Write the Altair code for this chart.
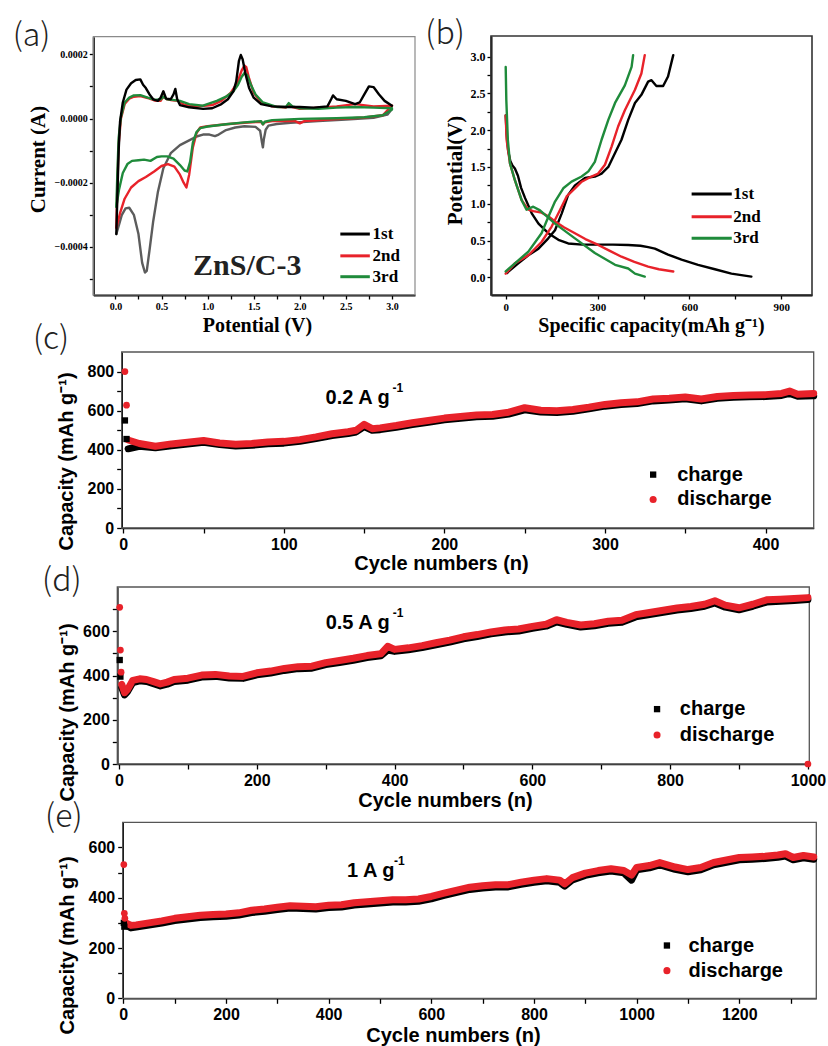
import altair as alt
import pandas as pd

W, H = 828, 1046
BLACK, GRAY, RED, GREEN = "#000000", "#5c5c5c", "#e8222a", "#1f8b3b"
SERIF, SANS, TAG_FONT = "Liberation Serif", "Liberation Sans", "Noto Sans CJK JP"

# ---------------- Panel (a): cyclic voltammetry, current in 1e-4 A ----------------
a1_cat_v = [3.0, 2.95, 2.8, 2.5, 2.2, 1.9, 1.75, 1.66, 1.63, 1.61, 1.6, 1.59, 1.57, 1.52, 1.4, 1.3, 1.2, 1.12, 1.08, 1.02,
            0.95, 0.88, 0.8, 0.7, 0.6, 0.52, 0.46, 0.41, 0.37, 0.34, 0.32, 0.29, 0.25, 0.2, 0.15, 0.11, 0.07, 0.04, 0.01]
a1_cat_i = [0.3, 0.12, 0.02, -0.03, -0.08, -0.13, -0.17, -0.22, -0.35, -0.65, -0.9, -0.75, -0.38, -0.26, -0.24, -0.28, -0.36, -0.5, -0.55, -0.5,
            -0.5, -0.56, -0.68, -0.83, -1.08, -1.55, -2.3, -3.2, -4.1, -4.75, -4.8, -4.5, -3.6, -3.0, -2.78, -2.8, -3.0, -3.3, -3.6]
a1_an_v = [0.01, 0.02, 0.035, 0.05, 0.08, 0.12, 0.17, 0.22, 0.27, 0.3, 0.33, 0.37, 0.41, 0.46, 0.49, 0.52, 0.55, 0.6, 0.63, 0.65,
           0.67, 0.7, 0.8, 0.95, 1.05, 1.15, 1.22, 1.28, 1.31, 1.34, 1.36, 1.38, 1.41, 1.45, 1.5, 1.58, 1.7, 1.85, 2.0, 2.15,
           2.3, 2.34, 2.36, 2.4, 2.5, 2.6, 2.65, 2.7, 2.75, 2.8, 2.86, 2.92, 3.0]
a1_an_i = [-3.6, -2.5, -1.0, -0.1, 0.5, 0.9, 1.1, 1.2, 1.22, 1.05, 0.95, 0.75, 0.6, 0.55, 0.65, 0.85, 0.62, 0.6, 0.75, 0.92,
           0.6, 0.42, 0.35, 0.3, 0.32, 0.45, 0.6, 0.85, 1.15, 1.8, 1.98, 1.85, 1.4, 0.95, 0.65, 0.45, 0.38, 0.36, 0.36, 0.34,
           0.38, 0.6, 0.72, 0.6, 0.55, 0.45, 0.5, 0.75, 1.0, 0.98, 0.75, 0.55, 0.4]
a2_cat_v = [3.0, 2.9, 2.7, 2.4, 2.05, 2.0, 1.95, 1.7, 1.62, 1.6, 1.58, 1.4, 1.2, 1.0, 0.92, 0.88, 0.84, 0.8, 0.77, 0.74,
            0.7, 0.64, 0.57, 0.5, 0.42, 0.33, 0.25, 0.17, 0.1, 0.05, 0.01]
a2_cat_i = [0.4, 0.1, 0.03, -0.02, -0.08, -0.15, -0.08, -0.08, -0.12, -0.18, -0.1, -0.13, -0.18, -0.24, -0.28, -0.45, -0.9, -1.75, -2.15, -2.0,
            -1.75, -1.5, -1.42, -1.48, -1.65, -1.82, -1.95, -2.15, -2.5, -2.95, -3.4]
a2_an_v = [0.01, 0.02, 0.035, 0.06, 0.1, 0.15, 0.2, 0.27, 0.35, 0.43, 0.49, 0.52, 0.56, 0.62, 0.68, 0.75, 0.9, 1.05, 1.15, 1.25,
           1.32, 1.37, 1.4, 1.42, 1.45, 1.5, 1.58, 1.7, 1.85, 1.88, 1.92, 2.0, 2.2, 2.4, 2.6, 2.8, 3.0]
a2_an_i = [-3.4, -2.2, -0.8, 0.0, 0.45, 0.62, 0.68, 0.7, 0.64, 0.56, 0.55, 0.68, 0.6, 0.57, 0.55, 0.42, 0.38, 0.42, 0.55, 0.8,
           1.1, 1.5, 1.65, 1.6, 1.25, 0.8, 0.5, 0.38, 0.34, 0.45, 0.36, 0.3, 0.34, 0.38, 0.45, 0.38, 0.4]
a3_cat_v = [3.0, 2.9, 2.7, 2.4, 2.0, 1.7, 1.62, 1.6, 1.58, 1.4, 1.2, 1.0, 0.92, 0.88, 0.84, 0.81, 0.78, 0.75, 0.7, 0.63,
            0.56, 0.5, 0.45, 0.38, 0.31, 0.25, 0.18, 0.13, 0.08, 0.04, 0.01]
a3_cat_i = [0.28, 0.1, 0.04, 0.01, -0.01, -0.05, -0.1, -0.18, -0.08, -0.12, -0.18, -0.25, -0.3, -0.42, -0.75, -1.35, -1.65, -1.62, -1.45, -1.25,
            -1.18, -1.18, -1.2, -1.32, -1.28, -1.3, -1.32, -1.42, -1.7, -2.2, -2.75]
a3_an_v = [0.01, 0.02, 0.035, 0.06, 0.1, 0.15, 0.2, 0.27, 0.35, 0.43, 0.49, 0.52, 0.56, 0.62, 0.7, 0.8, 0.95, 1.1, 1.2, 1.28,
           1.33, 1.37, 1.4, 1.43, 1.47, 1.52, 1.6, 1.75, 1.85, 1.88, 1.92, 2.0, 2.2, 2.4, 2.6, 2.8, 3.0]
a3_an_i = [-2.75, -1.8, -0.6, 0.05, 0.5, 0.65, 0.72, 0.73, 0.65, 0.58, 0.6, 0.68, 0.6, 0.58, 0.55, 0.45, 0.4, 0.55, 0.68, 0.85,
           1.05, 1.3, 1.42, 1.35, 1.05, 0.75, 0.5, 0.36, 0.36, 0.48, 0.38, 0.32, 0.3, 0.34, 0.36, 0.34, 0.32]
a_legend = ["1st", "2nd", "3rd"]

# ---------------- Panel (b): charge/discharge profiles ----------------
b1_dis_c = [0, 3, 8, 15, 22, 30, 40, 50, 63, 85, 107, 139, 172, 204, 250, 300, 350, 400, 440, 465, 487, 530, 574, 628, 683, 737, 802]
b1_dis_v = [2.2, 1.95, 1.72, 1.58, 1.52, 1.48, 1.38, 1.22, 1.08, 0.87, 0.73, 0.6, 0.51, 0.46, 0.445, 0.445, 0.445, 0.44, 0.43, 0.41,
            0.39, 0.31, 0.24, 0.17, 0.11, 0.05, 0.01]
b1_chg_c = [5, 9, 41, 74, 107, 139, 161, 183, 204, 226, 259, 291, 313, 335, 357, 378, 400, 422, 443, 465, 476, 492, 514, 530, 547]
b1_chg_v = [0.06, 0.08, 0.19, 0.3, 0.39, 0.53, 0.64, 0.87, 1.12, 1.25, 1.35, 1.37, 1.41, 1.5, 1.69, 1.87, 2.14, 2.37, 2.48, 2.66,
            2.68, 2.6, 2.6, 2.73, 3.02]
b2_dis_c = [0, 3, 14, 30, 52, 74, 90, 117, 139, 161, 190, 226, 260, 302, 340, 378, 420, 465, 500, 547]
b2_dis_v = [2.2, 1.87, 1.55, 1.32, 1.05, 0.92, 0.9, 0.88, 0.83, 0.76, 0.68, 0.6, 0.52, 0.44, 0.36, 0.28, 0.21, 0.145, 0.11, 0.08]
b2_chg_c = [0, 30, 74, 117, 150, 172, 199, 226, 248, 280, 302, 324, 346, 367, 389, 422, 443, 454]
b2_chg_v = [0.05, 0.19, 0.3, 0.48, 0.69, 0.87, 1.1, 1.21, 1.3, 1.37, 1.41, 1.53, 1.78, 2.05, 2.27, 2.55, 2.77, 3.02]
b3_dis_c = [0, 2, 7, 14, 30, 52, 68, 79, 90, 112, 161, 226, 291, 357, 400, 422, 454]
b3_dis_v = [2.86, 2.41, 1.87, 1.55, 1.32, 1.05, 0.92, 0.94, 0.96, 0.91, 0.73, 0.53, 0.33, 0.17, 0.12, 0.05, 0.01]
b3_chg_c = [0, 30, 74, 117, 139, 161, 188, 215, 248, 270, 291, 313, 335, 357, 389, 411, 416]
b3_chg_v = [0.08, 0.19, 0.35, 0.6, 0.82, 1.03, 1.21, 1.3, 1.37, 1.44, 1.57, 1.87, 2.14, 2.37, 2.61, 2.86, 3.02]

# ---------------- Panel (c): cycling at 0.2 A/g ----------------
c_cyc = [3, 10, 20, 30, 40, 50, 60, 70, 80, 90, 100, 110, 120, 130, 140, 145, 150, 155, 160, 170, 180, 190, 200, 210, 220,
         230, 240, 250, 260, 270, 280, 290, 300, 310, 320, 330, 340, 350, 360, 370, 380, 390, 400, 410, 415, 420, 430]
c_dis = [450, 432, 418, 430, 438, 447, 435, 428, 432, 440, 443, 452, 466, 482, 492, 500, 530, 508, 512, 524, 538, 550, 562, 570, 578,
         580, 592, 615, 602, 600, 606, 618, 632, 640, 645, 660, 664, 670, 660, 672, 678, 680, 682, 688, 700, 684, 688]
c_chg = [405, 418, 410, 421, 429, 438, 427, 419, 423, 431, 434, 443, 457, 473, 483, 491, 519, 500, 503, 515, 529, 541, 553, 561, 569,
         571, 583, 604, 593, 591, 597, 609, 623, 631, 636, 650, 654, 661, 650, 663, 668, 671, 672, 678, 688, 674, 676]
c_first_dis_cyc, c_first_dis = [1, 2], [800, 628]
c_first_chg_cyc, c_first_chg = [1, 2], [550, 455]

# ---------------- Panel (d): cycling at 0.5 A/g ----------------
d_cyc = [4, 8, 12, 20, 30, 40, 50, 60, 70, 80, 100, 120, 140, 160, 180, 200, 220, 240, 260, 280, 300, 320, 340, 360, 380, 390,
         400, 420, 440, 460, 480, 500, 520, 540, 560, 580, 600, 620, 635, 650, 670, 690, 710, 730, 750, 770, 790, 810, 830, 850,
         865, 880, 900, 920, 940, 960, 980, 1000]
d_dis = [360, 322, 335, 378, 385, 382, 372, 362, 370, 382, 388, 402, 405, 398, 396, 412, 420, 432, 440, 442, 458, 468, 478, 490,
         498, 532, 518, 525, 535, 548, 560, 575, 585, 597, 606, 610, 622, 632, 652, 640, 628, 634, 645, 650, 675, 685, 695, 705,
         712, 722, 738, 718, 706, 722, 742, 745, 748, 752]
d_chg = [345, 312, 326, 368, 376, 373, 363, 353, 361, 373, 379, 393, 396, 389, 387, 403, 411, 423, 431, 433, 449, 459, 469, 481,
         489, 515, 509, 516, 526, 539, 551, 566, 576, 588, 597, 601, 613, 623, 642, 631, 619, 625, 636, 641, 665, 676, 686, 696,
         703, 713, 728, 709, 697, 713, 732, 736, 739, 743]
d_first_dis_cyc, d_first_dis = [1, 2, 3, 1000], [708, 515, 415, 0]
d_first_chg_cyc, d_first_chg = [1, 2], [470, 395]

# ---------------- Panel (e): cycling at 1 A/g ----------------
e_cyc = [5, 15, 25, 50, 75, 100, 125, 150, 175, 200, 225, 250, 275, 300, 325, 350, 375, 400, 425, 450, 475, 500, 525, 550, 575,
         600, 625, 650, 675, 700, 725, 750, 775, 800, 825, 850, 860, 875, 900, 925, 950, 975, 990, 1000, 1025, 1045, 1075, 1100,
         1125, 1150, 1175, 1200, 1225, 1250, 1275, 1290, 1305, 1325, 1345]
e_dis = [300, 290, 292, 300, 308, 318, 324, 330, 333, 335, 340, 350, 355, 362, 368, 366, 364, 370, 372, 380, 384, 388, 392, 392, 395,
         405, 418, 430, 442, 448, 452, 452, 462, 470, 476, 470, 455, 480, 498, 508, 515, 508, 490, 520, 528, 540, 522, 512,
         520, 540, 550, 560, 562, 565, 570, 575, 560, 568, 562]
e_chg = [292, 280, 283, 291, 299, 309, 315, 321, 324, 326, 331, 341, 346, 353, 359, 357, 355, 361, 363, 371, 375, 379, 383, 383, 386,
         396, 409, 421, 433, 439, 443, 443, 453, 461, 467, 461, 446, 471, 489, 499, 506, 499, 470, 511, 519, 531, 513, 503,
         511, 531, 541, 551, 553, 556, 561, 566, 551, 559, 553]
e_first_dis_cyc, e_first_dis = [1, 2, 3], [532, 338, 318]
e_first_chg_cyc, e_first_chg = [1, 2], [300, 285]

legend_names = ["charge", "discharge"]

# ---------------- layout: scale domains and pixel ranges of each panel ----------------
PA = dict(xd=[-0.24, 3.25], xr=[93.3, 415], yd=[-0.00055, 0.000255], yr=[295, 36.7])
PB = dict(xd=[-48, 1000], xr=[491, 812], yd=[-0.24, 3.28], yr=[295, 36])
PC = dict(xd=[-1, 430], xr=[121.7, 813.7], yd=[0, 900], yr=[528, 352])
PD = dict(xd=[-2.5, 1002], xr=[117.3, 809.3], yd=[0, 800], yr=[764, 587])
PE = dict(xd=[-1.2, 1350], xr=[122.7, 816.3], yd=[0, 700], yr=[998.3, 822.3])


def scales(p):
    return (alt.Scale(domain=p["xd"], range=p["xr"], nice=False, zero=False),
            alt.Scale(domain=p["yd"], range=p["yr"], nice=False, zero=False))


def make_axis(orient, p, values, title, lfont, lsize, tfont, tsize, tpos, dw, expr, fmt, tick=4, pad=2):
    kw = dict(orient=orient, values=values, title=title, grid=False, labelFlush=False, labelOverlap=False,
              labelFont=lfont, labelFontSize=lsize, labelFontWeight="bold", labelColor="#000", labelPadding=pad,
              tickSize=tick, tickColor="#000", tickWidth=1.3, domainColor="#000", domainWidth=dw,
              titleFont=tfont, titleFontSize=tsize, titleFontWeight="bold", titleColor="#000",
              titleX=tpos[0], titleY=tpos[1], titleAlign="center", titleBaseline="middle",
              format=fmt, labelExpr=expr)
    if orient == "bottom":
        kw["offset"] = p["yr"][0] - H
    else:
        kw["offset"] = -p["xr"][0]
        kw["titleAngle"] = 270
    return alt.Axis(**kw)


def frame(p, ax, ay, stroke, sw):
    sx, sy = scales(p)
    df = pd.DataFrame({"x0": [p["xd"][0]], "x1": [p["xd"][1]], "y0": [p["yd"][0]], "y1": [p["yd"][1]]})
    return alt.Chart(df).mark_rect(fillOpacity=0, stroke=stroke, strokeWidth=sw).encode(
        x=alt.X("x0:Q", scale=sx, axis=ax), x2="x1", y=alt.Y("y0:Q", scale=sy, axis=ay), y2="y1")


def lines(p, parts, width):
    sx, sy = scales(p)
    rows = []
    for key, xs, ys, col in parts:
        for k, (xv, yv) in enumerate(zip(xs, ys)):
            rows.append({"x": xv, "y": yv, "k": k, "key": key, "color": col})
    return alt.Chart(pd.DataFrame(rows)).mark_line(strokeWidth=width, strokeJoin="round", strokeCap="round").encode(
        x=alt.X("x:Q", scale=sx), y=alt.Y("y:Q", scale=sy),
        detail="key:N", color=alt.Color("color:N", scale=None), order="k:Q")


def points(p, xs, ys, shape, col, size):
    sx, sy = scales(p)
    return alt.Chart(pd.DataFrame({"x": xs, "y": ys})).mark_point(filled=True, shape=shape, color=col, size=size, opacity=1).encode(
        x=alt.X("x:Q", scale=sx), y=alt.Y("y:Q", scale=sy))


def text(p, x, y, t, **kw):
    sx, sy = scales(p)
    return alt.Chart(pd.DataFrame({"x": [x], "y": [y], "t": [t]})).mark_text(**kw).encode(
        x=alt.X("x:Q", scale=sx), y=alt.Y("y:Q", scale=sy), text="t:N")


def rules(p, x0, x1, ys, cols, width):
    sx, sy = scales(p)
    df = pd.DataFrame({"x0": [x0] * len(ys), "x1": [x1] * len(ys), "y": ys, "color": cols})
    return alt.Chart(df).mark_rule(strokeWidth=width).encode(
        x=alt.X("x0:Q", scale=sx), x2="x1", y=alt.Y("y:Q", scale=sy),
        color=alt.Color("color:N", scale=None))


def tag(p, x, y, t):
    return text(p, x, y, t, font=TAG_FONT, fontSize=32, fontWeight=300, color="#222", align="center", baseline="middle")


# ---------------- Panel (a) ----------------
e4 = 1e-4
axA_x = make_axis("bottom", PA, [0, 0.25, 0.5, 0.75, 1, 1.25, 1.5, 1.75, 2, 2.25, 2.5, 2.75, 3], "Potential (V)",
                  SERIF, 10, SERIF, 20, (257, 30), 2, "round(datum.value*100) % 50 == 0 ? datum.label : ''", ".1f")
axA_y = make_axis("left", PA, [-0.0005, -0.0004, -0.0003, -0.0002, -0.0001, 0, 0.0001, 0.0002], "Current (A)",
                  SERIF, 10, SERIF, 21, (-55, 159), 2, "round(datum.value*10000) % 2 == 0 ? datum.label : ''", ".4f")
panelA = alt.layer(
    frame(PA, axA_x, axA_y, "#8a8a8a", 1.2),
    lines(PA, [
        ("1c", a1_cat_v, [v * e4 for v in a1_cat_i], GRAY),
        ("2c", a2_cat_v, [v * e4 for v in a2_cat_i], RED),
        ("2a", a2_an_v, [v * e4 for v in a2_an_i], RED),
        ("3c", a3_cat_v, [v * e4 for v in a3_cat_i], GREEN),
        ("3a", a3_an_v, [v * e4 for v in a3_an_i], GREEN),
        ("1a", a1_an_v, [v * e4 for v in a1_an_i], BLACK),
    ], 2.4),
    rules(PA, 2.44, 2.76, [-0.00036, -0.000428, -0.000493], [BLACK, RED, GREEN], 3),
    text(PA, 2.79, -0.00036, a_legend[0], font=SERIF, fontSize=17, fontWeight="bold", align="left", baseline="middle"),
    text(PA, 2.79, -0.000428, a_legend[1], font=SERIF, fontSize=17, fontWeight="bold", align="left", baseline="middle"),
    text(PA, 2.79, -0.000493, a_legend[2], font=SERIF, fontSize=17, fontWeight="bold", align="left", baseline="middle"),
    text(PA, 1.43, -0.000459, "ZnS/C-3", font=SERIF, fontSize=30, fontWeight="bold", color="#222", align="center", baseline="middle"),
    tag(PA, -0.91, 0.000256, "(a)"),
)

# ---------------- Panel (b) ----------------
axB_x = make_axis("bottom", PB, [0, 150, 300, 450, 600, 750, 900], "Specific capacity(mAh g\u207b\u00b9)",
                  SERIF, 11, SERIF, 20, (651, 30), 2, "datum.value % 300 == 0 ? datum.label : ''", "d")
axB_y = make_axis("left", PB, [0, 0.25, 0.5, 0.75, 1, 1.25, 1.5, 1.75, 2, 2.25, 2.5, 2.75, 3], "Potential(V)",
                  SERIF, 12, SERIF, 21, (-36, 170), 2, "round(datum.value*100) % 50 == 0 ? datum.label : ''", ".1f")
panelB = alt.layer(
    frame(PB, axB_x, axB_y, "#333333", 1.6),
    lines(PB, [
        ("1d", b1_dis_c, b1_dis_v, BLACK), ("1c", b1_chg_c, b1_chg_v, BLACK),
        ("2d", b2_dis_c, b2_dis_v, RED), ("2c", b2_chg_c, b2_chg_v, RED),
        ("3d", b3_dis_c, b3_dis_v, GREEN), ("3c", b3_chg_c, b3_chg_v, GREEN),
    ], 2.4),
    rules(PB, 607, 738, [1.133, 0.824, 0.53], [BLACK, RED, GREEN], 3),
    text(PB, 743, 1.133, a_legend[0], font=SERIF, fontSize=17, fontWeight="bold", align="left", baseline="middle"),
    text(PB, 743, 0.824, a_legend[1], font=SERIF, fontSize=17, fontWeight="bold", align="left", baseline="middle"),
    text(PB, 743, 0.53, a_legend[2], font=SERIF, fontSize=17, fontWeight="bold", align="left", baseline="middle"),
    tag(PB, -198, 3.31, "(b)"),
)


# ---------------- Panels (c)-(e) ----------------
def cycling_panel(p, cyc, dis, chg, fdc, fd, fcc, fc, xvals, xstep, yvals, ystep, xtitle_pos, ytitle_pos,
                  rate_txt, rate_pos, rate_dx, leg_x, leg_tx, leg_y, tag_pos, tag_txt):
    ax = make_axis("bottom", p, xvals, "Cycle numbers (n)", SANS, 16, SANS, 20, xtitle_pos, 1.6,
                   f"datum.value % {xstep} == 0 ? datum.label : ''", "d", tick=5, pad=3)
    ay = make_axis("left", p, yvals, "Capacity (mAh g\u207b\u00b9)", SANS, 16, SANS, 20, ytitle_pos, 1.6,
                   f"datum.value % {ystep} == 0 ? datum.label : ''", "d", tick=5, pad=3)
    return alt.layer(
        frame(p, ax, ay, "#555555", 1.3),
        lines(p, [("chg", cyc, chg, BLACK)], 7),
        lines(p, [("dis", cyc, dis, RED)], 7),
        points(p, fcc, fc, "square", BLACK, 40),
        points(p, fdc, fd, "circle", RED, 45),
        text(p, rate_pos[0], rate_pos[1], rate_txt, font=SANS, fontSize=20, fontWeight="bold", align="left", baseline="middle"),
        text(p, rate_pos[0], rate_pos[1], "-1", font=SANS, fontSize=12, fontWeight="bold", align="left", baseline="middle",
             dx=rate_dx, dy=-10),
        points(p, [leg_x], [leg_y[0]], "square", BLACK, 40),
        points(p, [leg_x], [leg_y[1]], "circle", RED, 50),
        text(p, leg_tx, leg_y[0], legend_names[0], font=SANS, fontSize=20, fontWeight="bold", align="left", baseline="middle"),
        text(p, leg_tx, leg_y[1], legend_names[1], font=SANS, fontSize=20, fontWeight="bold", align="left", baseline="middle"),
        tag(p, tag_pos[0], tag_pos[1], tag_txt),
    )


panelC = cycling_panel(PC, c_cyc, c_dis, c_chg, c_first_dis_cyc, c_first_dis, c_first_chg_cyc, c_first_chg,
                       list(range(0, 401, 50)), 100, list(range(0, 801, 100)), 200, (441, 35), (-55, 461),
                       "0.2 A g", (126, 665), 67, 330, 345, (273, 146), (-45, 966), "(c)")
panelD = cycling_panel(PD, d_cyc, d_dis, d_chg, d_first_dis_cyc, d_first_dis, d_first_chg_cyc, d_first_chg,
                       list(range(0, 1001, 100)), 200, list(range(0, 701, 100)), 200, (445, 36), (-50, 712),
                       "0.5 A g", (300, 637), 67, 781, 814, (248, 131), (-83, 826), "(d)")
panelE = cycling_panel(PE, e_cyc, e_dis, e_chg, e_first_dis_cyc, e_first_dis, e_first_chg_cyc, e_first_chg,
                       list(range(0, 1301, 100)), 200, list(range(0, 601, 100)), 200, (453, 37), (-55, 945),
                       "1 A g", (436, 507), 47, 1059, 1101, (210, 110), (-116, 722), "(e)")

chart = alt.layer(panelA, panelB, panelC, panelD, panelE).resolve_scale(
    x="independent", y="independent").resolve_axis(x="independent", y="independent").properties(
    width=W, height=H, autosize=alt.AutoSizeParams(type="none"), padding=0).configure_view(stroke="transparent")

chart.save("out.html", embed_options={"renderer": "svg", "actions": False})
